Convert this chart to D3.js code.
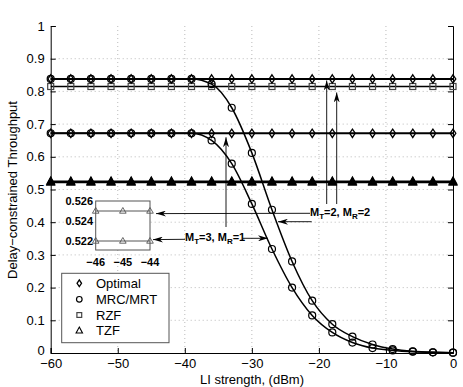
<!DOCTYPE html>
<html>
<head>
<meta charset="utf-8">
<script src="https://cdn.jsdelivr.net/npm/d3@7.9.0/dist/d3.min.js"></script>
<style>
  body { margin: 0; background: #fff; }
  text { font-family: "Liberation Sans", Arial, Helvetica, sans-serif; }
</style>
</head>
<body>
<svg id="chart" width="463" height="387"></svg>
<script>
// LI strength (dBm), markers every 3 dB
const liStrength = [-60, -57, -54, -51, -48, -45, -42, -39, -36, -33, -30, -27, -24, -21, -18, -15, -12, -9, -6, -3, 0];

// M_T=2, M_R=2
const optimal22 = [0.838, 0.838, 0.838, 0.838, 0.838, 0.838, 0.838, 0.838, 0.838, 0.838, 0.838, 0.838, 0.838, 0.838, 0.838, 0.838, 0.838, 0.838, 0.838, 0.838, 0.838];
const mrc22 = [0.838, 0.838, 0.838, 0.838, 0.838, 0.838, 0.838, 0.838, 0.822, 0.75, 0.612, 0.438, 0.28, 0.16, 0.088, 0.05, 0.026, 0.012, 0.005, 0.002, 0.001];
const rzf22 = [0.815, 0.815, 0.815, 0.815, 0.815, 0.815, 0.815, 0.815, 0.815, 0.815, 0.815, 0.815, 0.815, 0.815, 0.815, 0.815, 0.815, 0.815, 0.815, 0.815, 0.815];
const tzf22 = [0.525, 0.525, 0.525, 0.525, 0.525, 0.525, 0.525, 0.525, 0.525, 0.525, 0.525, 0.525, 0.525, 0.525, 0.525, 0.525, 0.525, 0.525, 0.525, 0.525, 0.525];

// M_T=3, M_R=1
const optimal31 = [0.672, 0.672, 0.672, 0.672, 0.672, 0.672, 0.672, 0.672, 0.672, 0.672, 0.672, 0.672, 0.672, 0.672, 0.672, 0.672, 0.672, 0.672, 0.672, 0.672, 0.672];
const mrc31 = [0.672, 0.672, 0.672, 0.672, 0.672, 0.672, 0.672, 0.672, 0.65, 0.579, 0.456, 0.318, 0.2, 0.115, 0.063, 0.032, 0.015, 0.008, 0.004, 0.002, 0.001];
const tzf31 = [0.522, 0.522, 0.522, 0.522, 0.522, 0.522, 0.522, 0.522, 0.522, 0.522, 0.522, 0.522, 0.522, 0.522, 0.522, 0.522, 0.522, 0.522, 0.522, 0.522, 0.522];

// inset (zoom on TZF)
const insetX = [-46, -45, -44];
const insetTzf22 = [0.525, 0.525, 0.525];
const insetTzf31 = [0.522, 0.522, 0.522];
const insetYTicks = [0.522, 0.524, 0.526];

const xTicks = [-60, -50, -40, -30, -20, -10, 0];
const yTicks = [0, 0.1, 0.2, 0.3, 0.4, 0.5, 0.6, 0.7, 0.8, 0.9, 1];
const legendLabels = ['Optimal', 'MRC/MRT', 'RZF', 'TZF'];

const svg = d3.select('#chart');
const pLeft = 50.7, pRight = 453, pTop = 26, pBottom = 353;

const x = d3.scaleLinear().domain([-60, 0]).range([pLeft, pRight]);
const y = d3.scaleLinear().domain([0, 1]).range([pBottom, pTop]);

// arrowhead
svg.append('defs').append('marker')
  .attr('id', 'arrow')
  .attr('viewBox', '0 0 10 6')
  .attr('refX', 10).attr('refY', 3)
  .attr('markerWidth', 10).attr('markerHeight', 6)
  .attr('markerUnits', 'userSpaceOnUse')
  .attr('orient', 'auto')
  .append('path').attr('d', 'M0,0 L10,3 L0,6 L3,3 Z').attr('fill', '#000');

/* grid */
const grid = svg.append('g');
grid.selectAll('.gx').data(xTicks.slice(1, -1)).enter().append('line')
  .attr('x1', d => x(d)).attr('x2', d => x(d))
  .attr('y1', pTop).attr('y2', pBottom)
  .attr('stroke', '#aaa').attr('stroke-width', 0.8).attr('stroke-dasharray', '1,3');
grid.selectAll('.gy').data(yTicks.slice(1, -1)).enter().append('line')
  .attr('x1', pLeft).attr('x2', pRight)
  .attr('y1', d => y(d)).attr('y2', d => y(d))
  .attr('stroke', '#aaa').attr('stroke-width', 0.8).attr('stroke-dasharray', '1,3');

/* axes */
const xAxis = svg.append('g').attr('transform', `translate(0,${pBottom})`)
  .call(d3.axisBottom(x).tickValues(xTicks).tickSize(-5).tickPadding(6).tickFormat(d3.format('d')));
const yAxis = svg.append('g').attr('transform', `translate(${pLeft},0)`)
  .call(d3.axisLeft(y).tickValues(yTicks).tickSize(-5).tickPadding(6).tickFormat(d => d === 0 || d === 1 ? d : d3.format('.1f')(d)));
svg.append('g').attr('transform', `translate(${pRight},0)`)
  .call(d3.axisRight(y).tickValues(yTicks).tickSize(-5).tickFormat(''));
[xAxis, yAxis].forEach(a => {
  a.selectAll('text').attr('font-size', 13).attr('fill', '#000').style('font-family', '"Liberation Sans", Arial, sans-serif');
});
// the "0" label sits a touch higher so it clears the -60 below it
yAxis.selectAll('.tick').filter(d => d === 0).select('text').attr('dy', '0.1em');
svg.selectAll('.domain').attr('stroke', '#000').attr('stroke-width', 1);
svg.selectAll('.tick line').attr('stroke', '#000');

svg.append('text')
  .attr('transform', 'translate(17,190) rotate(-90)')
  .attr('text-anchor', 'middle').attr('font-size', 13)
  .text('Delay\u2212constrained Throughput');
svg.append('text')
  .attr('x', 252).attr('y', 384)
  .attr('text-anchor', 'middle').attr('font-size', 13)
  .text('LI strength, (dBm)');

/* series */
const flat = d3.line().x((d, i) => x(liStrength[i])).y(d => y(d));
const smooth = d3.line().x((d, i) => x(liStrength[i])).y(d => y(d)).curve(d3.curveMonotoneX);

const series = [
  { values: tzf22, line: flat, marker: 'triangle', width: 1.7 },
  { values: tzf31, line: flat, marker: 'triangle', width: 1.7 },
  { values: rzf22, line: flat, marker: 'square', width: 1.7 },
  { values: mrc22, line: smooth, marker: 'circle', width: 1.5 },
  { values: mrc31, line: smooth, marker: 'circle', width: 1.5 },
  { values: optimal22, line: flat, marker: 'diamond', width: 1.9 },
  { values: optimal31, line: flat, marker: 'diamond', width: 1.9 }
];

function drawMarker(g, type, cx, cy, s, filled) {
  if (type === 'circle') {
    g.append('circle').attr('cx', cx).attr('cy', cy).attr('r', 3.5 * s)
      .attr('fill', 'none').attr('stroke', '#000').attr('stroke-width', 1.2);
  } else if (type === 'diamond') {
    g.append('path')
      .attr('d', `M${cx},${cy - 4.2 * s} L${cx + 2.8 * s},${cy} L${cx},${cy + 4.2 * s} L${cx - 2.8 * s},${cy} Z`)
      .attr('fill', 'none').attr('stroke', '#000').attr('stroke-width', 1.3);
  } else if (type === 'square') {
    g.append('rect').attr('x', cx - 3 * s).attr('y', cy - 3 * s)
      .attr('width', 6 * s).attr('height', 6 * s)
      .attr('fill', 'none').attr('stroke', '#444').attr('stroke-width', 1.2);
  } else if (type === 'triangle') {
    g.append('path')
      .attr('d', `M${cx},${cy - 4.5 * s} L${cx + 4 * s},${cy + 2.8 * s} L${cx - 4 * s},${cy + 2.8 * s} Z`)
      .attr('fill', filled ? '#000' : 'none').attr('stroke', '#000').attr('stroke-width', 1.1);
  }
}

const plot = svg.append('g');
series.forEach(s => {
  plot.append('path').attr('d', s.line(s.values))
    .attr('fill', 'none').attr('stroke', '#000').attr('stroke-width', s.width);
  const mg = plot.append('g');
  s.values.forEach((v, i) => drawMarker(mg, s.marker, x(liStrength[i]), y(v), 1, true));
});

/* inset */
const ix = d3.scaleLinear().domain([-46, -44]).range([95.7, 150]);
const iy = d3.scaleLinear().domain([0.5211, 0.526]).range([250, 201]);
const inset = svg.append('g');
inset.append('rect').attr('x', 95.7).attr('y', 201).attr('width', 150 - 95.7).attr('height', 49)
  .attr('fill', '#fff').attr('stroke', '#555').attr('stroke-width', 1);
[insetTzf22, insetTzf31].forEach(vals => {
  inset.append('path')
    .attr('d', d3.line().x((d, i) => ix(insetX[i])).y(d => iy(d))(vals))
    .attr('fill', 'none').attr('stroke', '#555').attr('stroke-width', 1);
  vals.forEach((v, i) => {
    inset.append('path')
      .attr('d', `M${ix(insetX[i])},${iy(v) - 3.5} L${ix(insetX[i]) + 3.3},${iy(v) + 2.2} L${ix(insetX[i]) - 3.3},${iy(v) + 2.2} Z`)
      .attr('fill', 'none').attr('stroke', '#555').attr('stroke-width', 0.9);
  });
});
inset.selectAll('.iyt').data(insetYTicks).enter().append('text')
  .attr('x', 93).attr('y', d => iy(d)).attr('dy', '0.35em')
  .attr('text-anchor', 'end').attr('font-size', 11).attr('font-weight', 'bold')
  .text(d => d3.format('.3f')(d));
inset.selectAll('.ixt').data(insetX).enter().append('text')
  .attr('x', d => ix(d)).attr('y', 266)
  .attr('text-anchor', 'middle').attr('font-size', 11).attr('font-weight', 'bold')
  .text(d => d3.format('d')(d));

/* annotations */
const ann = svg.append('g');
function arrow(x1, y1, x2, y2) {
  ann.append('line').attr('x1', x1).attr('y1', y1).attr('x2', x2).attr('y2', y2)
    .attr('stroke', '#000').attr('stroke-width', 0.9).attr('marker-end', 'url(#arrow)');
}
function label(tx, ty, t, r) {
  const t0 = ann.append('text').attr('x', tx).attr('y', ty).attr('font-size', 11).attr('font-weight', 'bold');
  t0.append('tspan').text('M');
  t0.append('tspan').attr('dy', 3).attr('font-size', 8).text('T');
  t0.append('tspan').attr('dy', -3).text('=' + t + ', M');
  t0.append('tspan').attr('dy', 3).attr('font-size', 8).text('R');
  t0.append('tspan').attr('dy', -3).text('=' + r);
}

// M_T=2, M_R=2
label(310, 216, 2, 2);
arrow(310, 213.3, ix(-44) + 6, iy(insetTzf22[2]) + 2.6);
arrow(311.7, 221.7, 278, 221.7);
arrow(326.7, 204, 326.7, y(optimal22[0]) + 1.5);
arrow(336.7, 204, 336.7, y(rzf22[0]) + 6);

// M_T=3, M_R=1
label(185, 241, 3, 1);
arrow(185, 239.3, ix(-44) + 3, iy(insetTzf31[2]) - 1.4);
arrow(243, 238.3, 268, 238.3);
arrow(226, 227, 226, y(optimal31[0]) + 4);

/* legend */
const lg = svg.append('g');
lg.append('rect').attr('x', 61.7).attr('y', 273.3).attr('width', 107.3).attr('height', 69.4)
  .attr('fill', '#fff').attr('stroke', '#555').attr('stroke-width', 1);
const legendMarkers = ['diamond', 'circle', 'square', 'triangle'];
const legendRows = [283.3, 299.3, 315, 330.7];
legendLabels.forEach((lab, i) => {
  drawMarker(lg, legendMarkers[i], 79.3, legendRows[i], 0.8, false);
  lg.append('text').attr('x', 96).attr('y', legendRows[i]).attr('dy', '0.36em')
    .attr('font-size', 13).text(lab);
});
</script>
</body>
</html>
